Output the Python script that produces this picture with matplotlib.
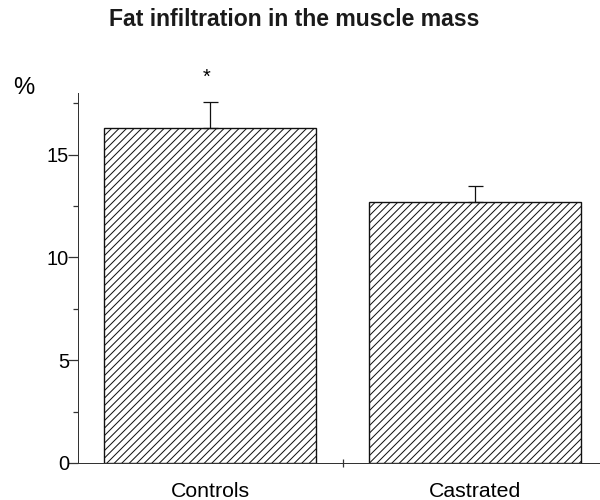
import matplotlib
matplotlib.use("Agg")
import matplotlib.pyplot as plt
from matplotlib.ticker import FixedLocator

categories = ["Controls", "Castrated"]
means = [16.3, 12.7]
errors = [1.26, 0.78]
significance = ["*", ""]

DPI = 90
plt.rcParams['font.family'] = ['Liberation Sans', 'DejaVu Sans']
plt.rcParams['hatch.linewidth'] = 0.8
plt.rcParams['hatch.color'] = '#222222'

fig = plt.figure(figsize=(600 / DPI, 500 / DPI), dpi=DPI)
ax = fig.add_axes([0.13, 0.074, 0.87, 0.74])

x = list(range(len(categories)))
ax.bar(x, means, width=0.8, color='white', edgecolor='#111111',
       linewidth=1.1, hatch='////', zorder=2)
ax.errorbar(x, means, yerr=[[0] * len(errors), errors], fmt='none',
            ecolor='#111111', elinewidth=1.0, capsize=6, capthick=1.0, zorder=3)

for xi, m, e, s in zip(x, means, errors, significance):
    if s:
        ax.annotate(s, (xi, m + e), xytext=(-3, 20), textcoords='offset points',
                    ha='center', va='center', fontsize=16)

ax.set_xlim(-0.5, 1.47)
ax.set_ylim(0, 18)
ax.spines['top'].set_visible(False)
ax.spines['right'].set_visible(False)
ax.spines['left'].set_color('#333333')
ax.spines['bottom'].set_color('#333333')

ax.set_yticks([0, 5, 10, 15])
ax.yaxis.set_minor_locator(FixedLocator([2.5, 7.5, 12.5, 17.5]))
ax.tick_params(axis='y', which='major', length=8, width=1, color='#333333',
               labelsize=16, pad=-1)
ax.tick_params(axis='y', which='minor', length=4, width=1, color='#333333')

ax.set_xticks(x)
ax.set_xticklabels(categories)
ax.xaxis.set_minor_locator(FixedLocator([0.5]))
ax.tick_params(axis='x', which='major', length=0, labelsize=17, pad=15)
ax.tick_params(axis='x', which='minor', length=7, direction='inout', width=1,
               color='#333333')

fig.text(0.49, 0.96, "Fat infiltration in the muscle mass", ha='center',
         va='center', fontsize=18.4, fontweight='bold', color='#1a1a1a')
fig.text(0.04, 0.824, "%", ha='center', va='center', fontsize=19)

fig.savefig("out.png", dpi=DPI)
